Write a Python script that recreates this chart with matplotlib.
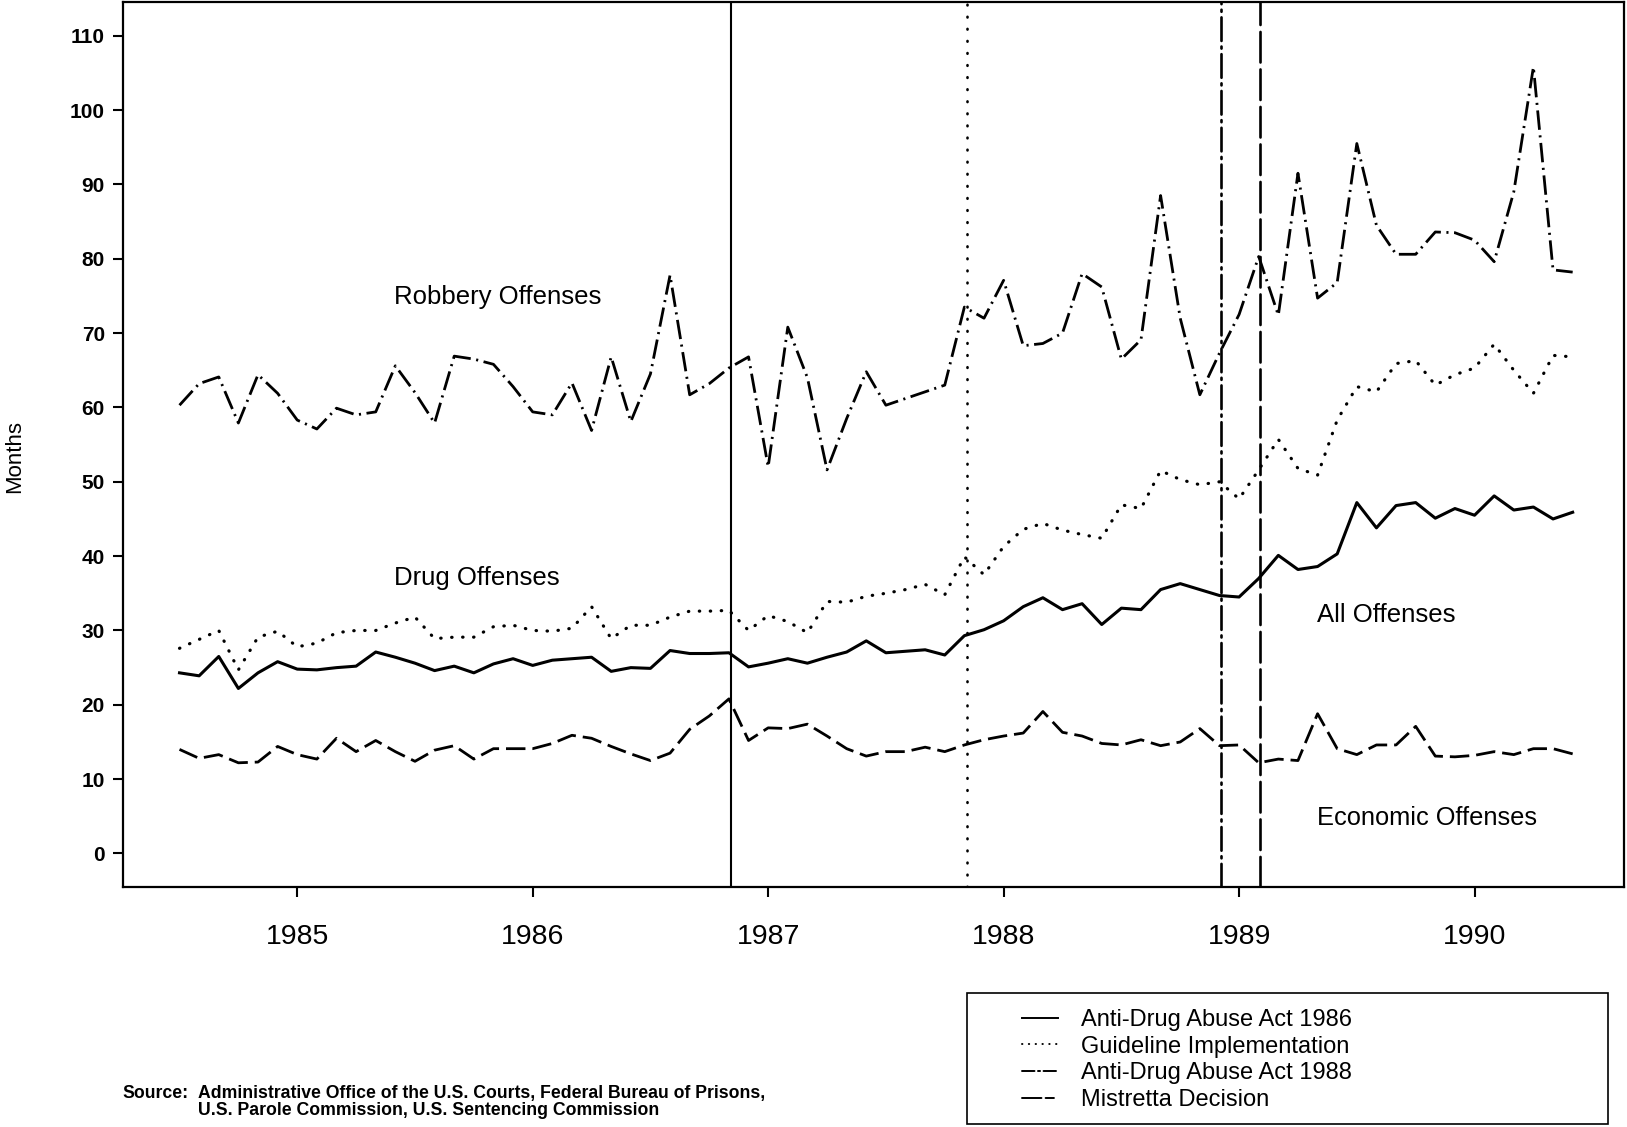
# Average sentence length by offense type, monthly 1984-1990

import matplotlib.pyplot as plt
from matplotlib.lines import Line2D
from matplotlib.patches import Rectangle
import numpy as np
import pandas as pd

plt.rcParams['font.family'] = ['Liberation Sans', 'DejaVu Sans']
plt.rcParams['lines.scale_dashes'] = False

# monthly series, July 1984 - June 1990
months = pd.date_range('1984-07-01', periods=72, freq='MS')

robbery = [60.3, 63.2, 64.1, 57.9, 64.4, 61.9, 58.3, 57.1, 59.9, 59.0,
           59.4, 65.6, 62.0, 57.9, 66.9, 66.5, 65.8, 62.8, 59.4, 59.0,
           63.3, 56.9, 66.8, 58.1, 64.5, 77.8, 61.7, 63.2, 65.3, 66.8,
           52.0, 70.8, 64.0, 51.6, 58.5, 64.8, 60.3, 61.2, 62.1, 63.0,
           73.5, 72.0, 77.1, 68.3, 68.6, 70.0, 78.0, 76.2, 66.5, 69.1,
           88.5, 72.0, 61.7, 67.3, 72.5, 80.3, 72.4, 91.5, 74.7, 76.8,
           95.5, 84.5, 80.6, 80.6, 83.6, 83.5, 82.5, 79.6, 89.0, 105.8,
           78.5, 78.2]

drug = [27.6, 28.8, 30.0, 24.7, 29.1, 29.9, 27.8, 28.3, 29.7, 30.0,
        30.0, 31.0, 31.8, 28.9, 29.1, 29.1, 30.5, 30.7, 30.0, 29.9,
        30.3, 33.2, 28.9, 30.7, 30.7, 31.8, 32.6, 32.6, 32.7, 30.0,
        32.0, 31.2, 29.7, 33.9, 33.8, 34.6, 35.0, 35.5, 36.2, 34.8,
        39.9, 37.5, 41.3, 43.6, 44.4, 43.5, 42.9, 42.4, 46.9, 46.4,
        51.5, 50.3, 49.6, 50.0, 47.7, 51.6, 55.7, 51.8, 50.9, 58.3,
        62.8, 62.1, 65.9, 66.3, 63.0, 64.4, 65.3, 68.5, 65.0, 61.9,
        67.0, 66.8]

all_off = [24.3, 23.9, 26.5, 22.2, 24.3, 25.8, 24.8, 24.7, 25.0, 25.2,
           27.1, 26.4, 25.6, 24.6, 25.2, 24.3, 25.5, 26.2, 25.3, 26.0,
           26.2, 26.4, 24.5, 25.0, 24.9, 27.3, 26.9, 26.9, 27.0, 25.1,
           25.6, 26.2, 25.6, 26.4, 27.1, 28.6, 27.0, 27.2, 27.4, 26.7,
           29.3, 30.1, 31.3, 33.2, 34.4, 32.8, 33.6, 30.8, 33.0, 32.8,
           35.5, 36.3, 35.5, 34.7, 34.5, 37.0, 40.1, 38.2, 38.6, 40.3,
           47.2, 43.8, 46.8, 47.2, 45.1, 46.4, 45.5, 48.1, 46.2, 46.6,
           45.0, 45.9]

economic = [14.0, 12.8, 13.3, 12.2, 12.3, 14.4, 13.3, 12.7, 15.5, 13.7,
            15.2, 13.7, 12.4, 13.9, 14.5, 12.7, 14.1, 14.1, 14.1, 14.8,
            15.9, 15.5, 14.4, 13.4, 12.5, 13.5, 16.7, 18.5, 20.8, 15.2,
            16.9, 16.8, 17.4, 15.8, 14.1, 13.1, 13.7, 13.7, 14.3, 13.7,
            14.6, 15.3, 15.8, 16.2, 19.1, 16.3, 15.8, 14.8, 14.6, 15.3,
            14.5, 15.0, 16.8, 14.5, 14.6, 12.2, 12.7, 12.5, 18.8, 14.1,
            13.3, 14.6, 14.6, 17.1, 13.1, 13.0, 13.2, 13.7, 13.3, 14.1,
            14.1, 13.4]

# policy events (decimal year)
event_names = ["Anti-Drug Abuse Act 1986", "Guideline Implementation",
               "Anti-Drug Abuse Act 1988", "Mistretta Decision"]
event_dates = [1986.844, 1987.844, 1988.925, 1989.088]
event_styles = ['-', (0, (0.5, 8.2)), (0, (17, 4, 1.5, 4)), (0, (22, 5))]
legend_styles = ['-', (0, (0.3, 4.6)), (0, (9, 2.5, 1.5, 2.5)), (0, (14, 3, 6, 30))]

x = months.year + (months.month - 1) / 12.0

fig = plt.figure(figsize=(16.27, 11.27), dpi=100)
ax = fig.add_axes([0.0756, 0.213, 0.9226, 0.785])

ax.plot(x, robbery, color='k', lw=2, ls=(0, (14, 4, 1.5, 4)))
ax.plot(x, drug, color='k', lw=2.3, ls=(0, (0.3, 7.6)), dash_capstyle='round')
ax.plot(x, all_off, color='k', lw=2.2, ls='-')
ax.plot(x, economic, color='k', lw=2, ls=(0, (14, 5)))

for d, st in zip(event_dates, event_styles):
    if st == '-':
        ax.axvline(d, color='k', lw=1.5, ls=st)
    else:
        ax.axvline(d, color='k', lw=1.9, ls=st, dash_capstyle='round')

ax.text(1985.41, 74.9, 'Robbery Offenses', fontsize=18.5, va='center')
ax.text(1985.41, 37.0, 'Drug Offenses', fontsize=18.5, va='center')
ax.text(1989.33, 32.1, 'All Offenses', fontsize=18.5, va='center')
ax.text(1989.33, 4.8, 'Economic Offenses', fontsize=18.3, va='center')

ax.set_xlim(1984.26, 1990.635)
ax.set_ylim(-4.5, 114.5)
ax.set_yticks(np.arange(0, 111, 10))
ax.set_xticks(range(1985, 1991))
ax.tick_params(axis='y', direction='out', length=7, width=1.5, pad=6, labelsize=15)
ax.tick_params(axis='x', direction='out', length=7, width=1.5, pad=20, labelsize=20.5)
for lab in ax.get_yticklabels():
    lab.set_fontweight('bold')
for sp in ax.spines.values():
    sp.set_linewidth(1.6)

ax.set_ylabel('Months', fontsize=16)
ax.yaxis.set_label_coords(-0.0655, 0.486)

# legend box below the plot
fig.patches.append(Rectangle((0.5943, 0.0027), 0.394, 0.1162, transform=fig.transFigure,
                             fill=False, edgecolor='k', lw=1.2))
handles = [Line2D([], [], color='k', lw=1.4, ls=st, dash_capstyle='round')
           for st in legend_styles]
fig.legend(handles, event_names, loc='upper left',
           bbox_to_anchor=(1022 / 1627, 1 - 1009 / 1127), frameon=False,
           fontsize=17, handlelength=1.53, handletextpad=0.97,
           labelspacing=0.2, borderpad=0, borderaxespad=0)

fig.text(122 / 1627, 1 - 1093 / 1127, 'Source:', fontsize=12.7, fontweight='bold',
         va='center')
fig.text(198 / 1627, 1 - 1102 / 1127,
         'Administrative Office of the U.S. Courts, Federal Bureau of Prisons,\n'
         'U.S. Parole Commission, U.S. Sentencing Commission',
         fontsize=12.7, fontweight='bold', va='center', linespacing=1.0)

fig.savefig('out.png', dpi=100)
